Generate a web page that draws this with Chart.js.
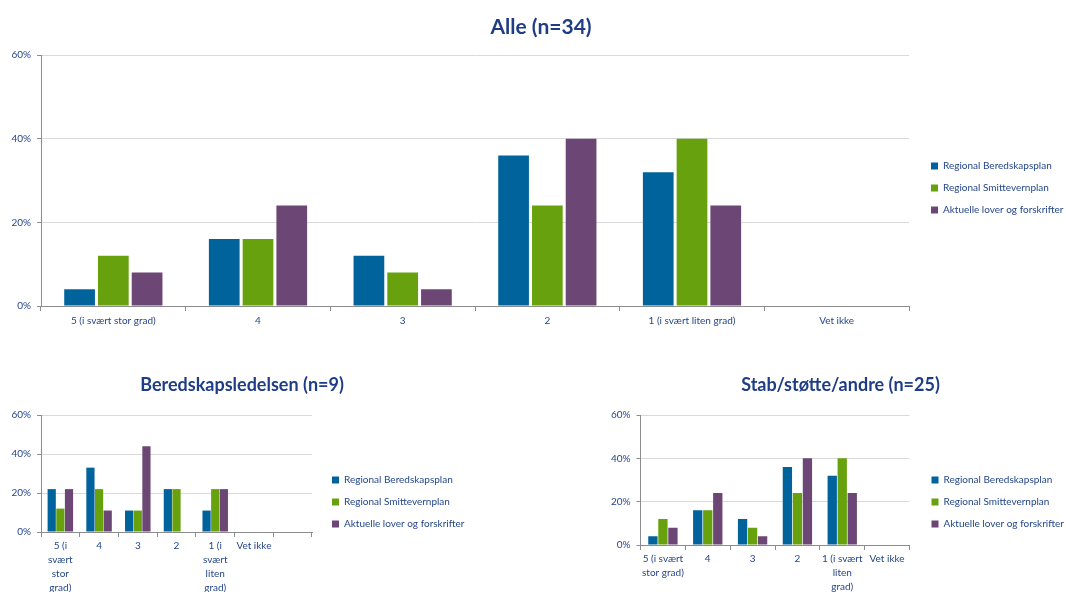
<!DOCTYPE html>
<html><head><meta charset="utf-8">
<script src="https://cdn.jsdelivr.net/npm/chart.js@4/dist/chart.umd.min.js"></script>
<style>
html,body{margin:0;padding:0;background:#fff;overflow:hidden;width:1066px;height:592px;position:relative}
canvas{position:absolute;display:block}
</style></head>
<body>
<canvas id="cAll" width="1066" height="345" style="left:8px;top:0;width:1066px;height:345px"></canvas>
<canvas id="cLed" width="533" height="250" style="left:0;top:360px;width:533px;height:250px"></canvas>
<canvas id="cStab" width="533" height="250" style="left:573.5px;top:360px;width:533px;height:250px"></canvas>
<script>
// ---- data ----
const seriesNames = ['Regional Beredskapsplan', 'Regional Smittevernplan', 'Aktuelle lover og forskrifter'];
const seriesColors = ['#00639C', '#67A10E', '#6C4775'];
const yTicks = [0, 20, 40, 60];

const allTitle = 'Alle (n=34)';
const allCategories = ['5 (i svært stor grad)', '4', '3', '2', '1 (i svært liten grad)', 'Vet ikke'];
const allBeredskapsplan = [4, 16, 12, 36, 32, 0];
const allSmittevernplan = [12, 16, 8, 24, 40, 0];
const allLover = [8, 24, 4, 40, 24, 0];

const ledTitle = 'Beredskapsledelsen (n=9)';
const ledCategories = [['5 (i', 'svært', 'stor', 'grad)'], '4', '3', '2', ['1 (i', 'svært', 'liten', 'grad)'], 'Vet ikke', ''];
const ledBeredskapsplan = [22, 33, 11, 22, 11, 0, null];
const ledSmittevernplan = [12, 22, 11, 22, 22, 0, null];
const ledLover = [22, 11, 44, 0, 22, 0, null];

const stabTitle = 'Stab/støtte/andre (n=25)';
const stabCategories = [['5 (i svært', 'stor grad)'], '4', '3', '2', ['1 (i svært', 'liten', 'grad)'], 'Vet ikke'];
const stabBeredskapsplan = [4, 16, 12, 36, 32, 0];
const stabSmittevernplan = [12, 16, 8, 24, 40, 0];
const stabLover = [8, 24, 4, 40, 24, 0];

// ---- styling ----
const FONT = 'Lato, "Open Sans", sans-serif';
const TITLE_COLOR = '#1F3D85';
const TEXT_COLOR = '#25468A';
const AXIS_COLOR = '#8C8C8C';
const GRID_COLOR = '#D9D9D9';

const legendPlace = {
  id: 'legendPlace',
  beforeLayout(chart, args, opts) {
    const lg = chart.legend;
    if (lg && !lg._forced) {
      const orig = lg.fit;
      lg.fit = function () { orig.call(this); this.width = opts.width; };
      lg._forced = true;
    }
  },
  afterLayout(chart, args, opts) {
    const lg = chart.legend;
    if (!lg) return;
    const pad = lg.options.labels.padding;
    const dx = opts.x - (lg.left + pad);
    const dy = opts.y - (lg.top + pad + 5);
    lg.left += dx; lg.right += dx; lg.top += dy; lg.bottom += dy;
  }
};

function makeChart(id, title, cats, s1, s2, s3, L) {
  const values = [s1, s2, s3];
  return new Chart(document.getElementById(id), {
    type: 'bar',
    data: {
      labels: cats,
      datasets: values.map((d, i) => ({
        label: seriesNames[i],
        data: d,
        backgroundColor: seriesColors[i],
        borderWidth: 0,
        barPercentage: L.barPct,
        categoryPercentage: L.catPct
      }))
    },
    plugins: [legendPlace],
    options: {
      responsive: false,
      animation: false,
      devicePixelRatio: 1,
      layout: { padding: L.pad },
      plugins: {
        title: {
          display: true, text: title, color: TITLE_COLOR,
          font: { family: FONT, size: L.titleSize, weight: 'bold', lineHeight: 1.2 },
          padding: L.titlePad
        },
        legend: {
          position: 'right', align: 'start',
          labels: { boxWidth: 7, boxHeight: 7, padding: 12, color: TEXT_COLOR, font: { family: FONT, size: 10 } }
        },
        legendPlace: L.legend,
        tooltip: { enabled: false }
      },
      scales: {
        x: {
          grid: { display: true, drawOnChartArea: false, drawTicks: true, tickLength: 5, color: AXIS_COLOR, offset: true },
          border: { color: AXIS_COLOR, width: 1 },
          ticks: { color: TEXT_COLOR, font: { family: FONT, size: 10, lineHeight: L.xLine }, padding: L.xPad, autoSkip: false, maxRotation: 0, minRotation: 0 }
        },
        y: {
          min: 0, max: 60,
          afterBuildTicks(s) { s.ticks = yTicks.map(v => ({ value: v })); },
          afterFit(s) { s.width = L.yWidth; },
          ticks: { color: TEXT_COLOR, font: { family: FONT, size: 10 }, padding: 6, callback: v => v + '%' },
          grid: { color: c => (c.tick && c.tick.value === 0 ? AXIS_COLOR : GRID_COLOR), tickColor: AXIS_COLOR, tickLength: 4, drawTicks: true },
          border: { color: AXIS_COLOR, width: 1 }
        }
      }
    }
  });
}

// main chart canvas is offset 8px to the right
makeChart('cAll', allTitle, allCategories, allBeredskapsplan, allSmittevernplan, allLover, {
  pad: { left: 0, right: 0, top: 0, bottom: 14 },
  titleSize: 21, titlePad: { top: 14.4, bottom: 15.4 },
  yWidth: 33, xLine: 1.2, xPad: 4,
  barPct: 0.91, catPct: 0.70,
  legend: { width: 165, x: 923, y: 166 }
});

makeChart('cLed', ledTitle, ledCategories, ledBeredskapsplan, ledSmittevernplan, ledLover, {
  pad: { left: 0, right: 49, top: 0, bottom: 13 },
  titleSize: 18, titlePad: { top: 14.7, bottom: 18.7 },
  yWidth: 41, xLine: 1.4, xPad: 2,
  barPct: 0.95, catPct: 0.67,
  legend: { width: 172, x: 332, y: 120 }
});

// bottom-right canvas starts at x=573.5
makeChart('cStab', stabTitle, stabCategories, stabBeredskapsplan, stabSmittevernplan, stabLover, {
  pad: { left: 0, right: 0, top: 0, bottom: 14 },
  titleSize: 18, titlePad: { top: 14.7, bottom: 18.7 },
  yWidth: 66.5, xLine: 1.4, xPad: 2,
  barPct: 0.93, catPct: 0.67,
  legend: { width: 197.5, x: 357.5, y: 120 }
});
</script>
</body></html>
